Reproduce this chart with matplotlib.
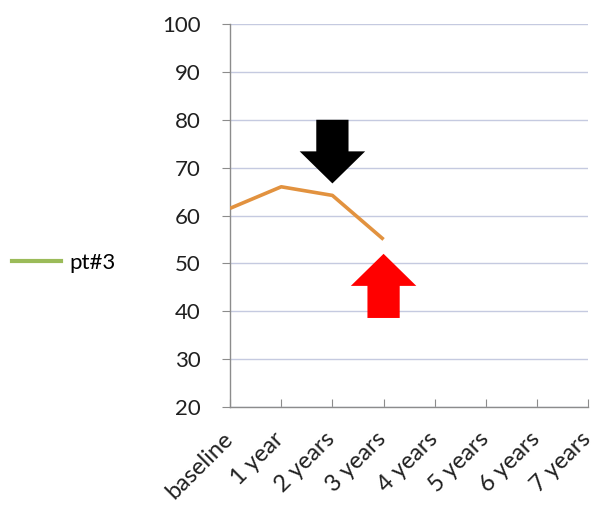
import matplotlib
matplotlib.use("Agg")
import matplotlib.pyplot as plt
from matplotlib.lines import Line2D

categories = ["baseline", "1 year", "2 years", "3 years", "4 years", "5 years", "6 years", "7 years"]
pt3_values = [61.5, 66, 64.2, 55]
series_label = "pt#3"

# arrows: (x position, start value, end value)
down_arrow = (2, 80, 66.7)
up_arrow = (3, 38.6, 52)

plt.rcParams["font.family"] = ["Lato", "DejaVu Sans"]

fig = plt.figure(figsize=(5.96, 5.11), dpi=100)
ax = fig.add_axes([0.386, 0.2035, 0.601, 0.7495])

x = list(range(len(pt3_values)))
ax.plot(x, pt3_values, color="#E2923F", lw=2.6, solid_capstyle="butt", zorder=3)

def draw_arrow(spec, color):
    xp, y0, y1 = spec
    ax.arrow(xp, y0, 0, y1 - y0, width=0.63, head_width=1.28, head_length=6.7,
             length_includes_head=True, color=color, lw=0, zorder=4)

draw_arrow(down_arrow, "black")
draw_arrow(up_arrow, "#FF0000")

ax.set_xlim(0, len(categories) - 1)
ax.set_ylim(20, 100)
ax.set_yticks(range(20, 101, 10))
ax.set_xticks(range(len(categories)))
ax.set_xticklabels([])

# category labels, rotated and hung below each tick
for i, name in enumerate(categories):
    ax.annotate(name, xy=(i, 0), xycoords=ax.get_xaxis_transform(),
                xytext=(-8, -21), textcoords="offset pixels",
                rotation=45, rotation_mode="anchor", ha="right", va="top",
                fontsize=17, color="#202020", annotation_clip=False)

ax.yaxis.grid(True, color="#C5CAE0", lw=1)
ax.set_axisbelow(True)
for s in ("top", "right"):
    ax.spines[s].set_visible(False)
for s in ("left", "bottom"):
    ax.spines[s].set_color("#8C8C8C")
    ax.spines[s].set_linewidth(1)

ax.tick_params(axis="y", direction="out", length=6, color="#8C8C8C", labelsize=16, pad=15, labelcolor="#202020")
ax.tick_params(axis="x", direction="in", length=6, color="#8C8C8C")

handle = Line2D([0], [0], color="#9BBB59", lw=3)
fig.legend([handle], [series_label], loc="center left", bbox_to_anchor=(12 / 596, 1 - 263 / 511),
           frameon=False, fontsize=16, handlelength=2.2, handletextpad=0.4,
           borderpad=0, borderaxespad=0)

fig.savefig("out.png", dpi=100, facecolor="white")
